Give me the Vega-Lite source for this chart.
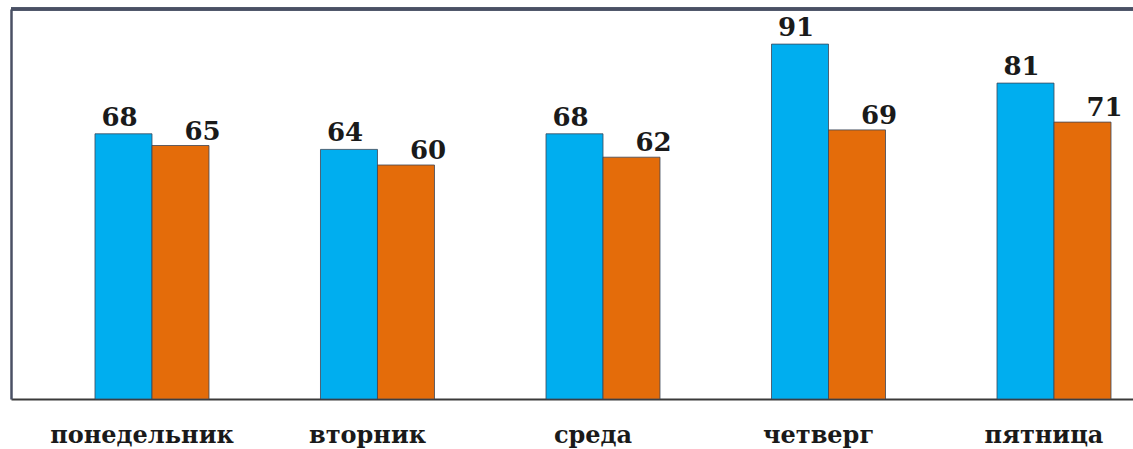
{
  "$schema": "https://vega.github.io/schema/vega-lite/v6.json",
  "autosize": {"type": "none"},
  "width": 1122,
  "height": 390,
  "padding": {"left": 11, "top": 9, "right": 0, "bottom": 50},
  "background": "white",
  "config": {"view": {"stroke": null}},
  "data": {"values": [
    {"day": "понедельник", "series": "A", "value": 68},
    {"day": "понедельник", "series": "B", "value": 65},
    {"day": "вторник", "series": "A", "value": 64},
    {"day": "вторник", "series": "B", "value": 60},
    {"day": "среда", "series": "A", "value": 68},
    {"day": "среда", "series": "B", "value": 62},
    {"day": "четверг", "series": "A", "value": 91},
    {"day": "четверг", "series": "B", "value": 69},
    {"day": "пятница", "series": "A", "value": 81},
    {"day": "пятница", "series": "B", "value": 71}
  ]},
  "encoding": {
    "x": {
      "field": "day", "type": "nominal",
      "sort": ["понедельник", "вторник", "среда", "четверг", "пятница"],
      "scale": {"paddingInner": 0.4945, "paddingOuter": 0.235, "align": 0.7925},
      "axis": {
        "title": null, "ticks": false, "tickSize": 0,
        "domainColor": "#3a3a3a", "domainWidth": 2,
        "labelFont": "DejaVu Serif", "labelFontWeight": "bold", "labelFontSize": 24, "labelLimit": 0,
        "labelColor": "#1a1a1a", "labelAngle": 0, "labelOffset": -10,
        "labelBaseline": "alphabetic", "labelPadding": 43
      }
    },
    "xOffset": {"field": "series", "type": "nominal", "scale": {"paddingInner": 0, "paddingOuter": 0}},
    "y": {
      "field": "value", "type": "quantitative",
      "scale": {"domain": [0, 100], "nice": false},
      "axis": {"title": null, "labels": false, "ticks": false, "grid": false, "domainColor": "#4a5064", "domainWidth": 2.5}
    }
  },
  "layer": [
    {
      "mark": {"type": "bar", "stroke": "#3d4656", "strokeWidth": 1, "strokeOpacity": 0.8},
      "encoding": {
        "color": {"field": "series", "type": "nominal", "scale": {"domain": ["A", "B"], "range": ["#00AEEF", "#E46C0A"]}, "legend": null}
      }
    },
    {
      "transform": [{"filter": "datum.series === 'A'"}],
      "mark": {"type": "text", "font": "DejaVu Serif", "fontWeight": "bold", "fontSize": 26, "color": "#1a1a1a", "baseline": "alphabetic", "dx": -4, "dy": -8},
      "encoding": {"text": {"field": "value", "type": "quantitative"}}
    },
    {
      "transform": [{"filter": "datum.series === 'B'"}],
      "mark": {"type": "text", "font": "DejaVu Serif", "fontWeight": "bold", "fontSize": 26, "color": "#1a1a1a", "baseline": "alphabetic", "dx": 22, "dy": -6},
      "encoding": {"text": {"field": "value", "type": "quantitative"}}
    },
    {
      "mark": {"type": "rule", "color": "#4a5064", "strokeWidth": 2.5},
      "encoding": {"y": {"datum": 100}, "x": null, "xOffset": null}
    }
  ]
}
